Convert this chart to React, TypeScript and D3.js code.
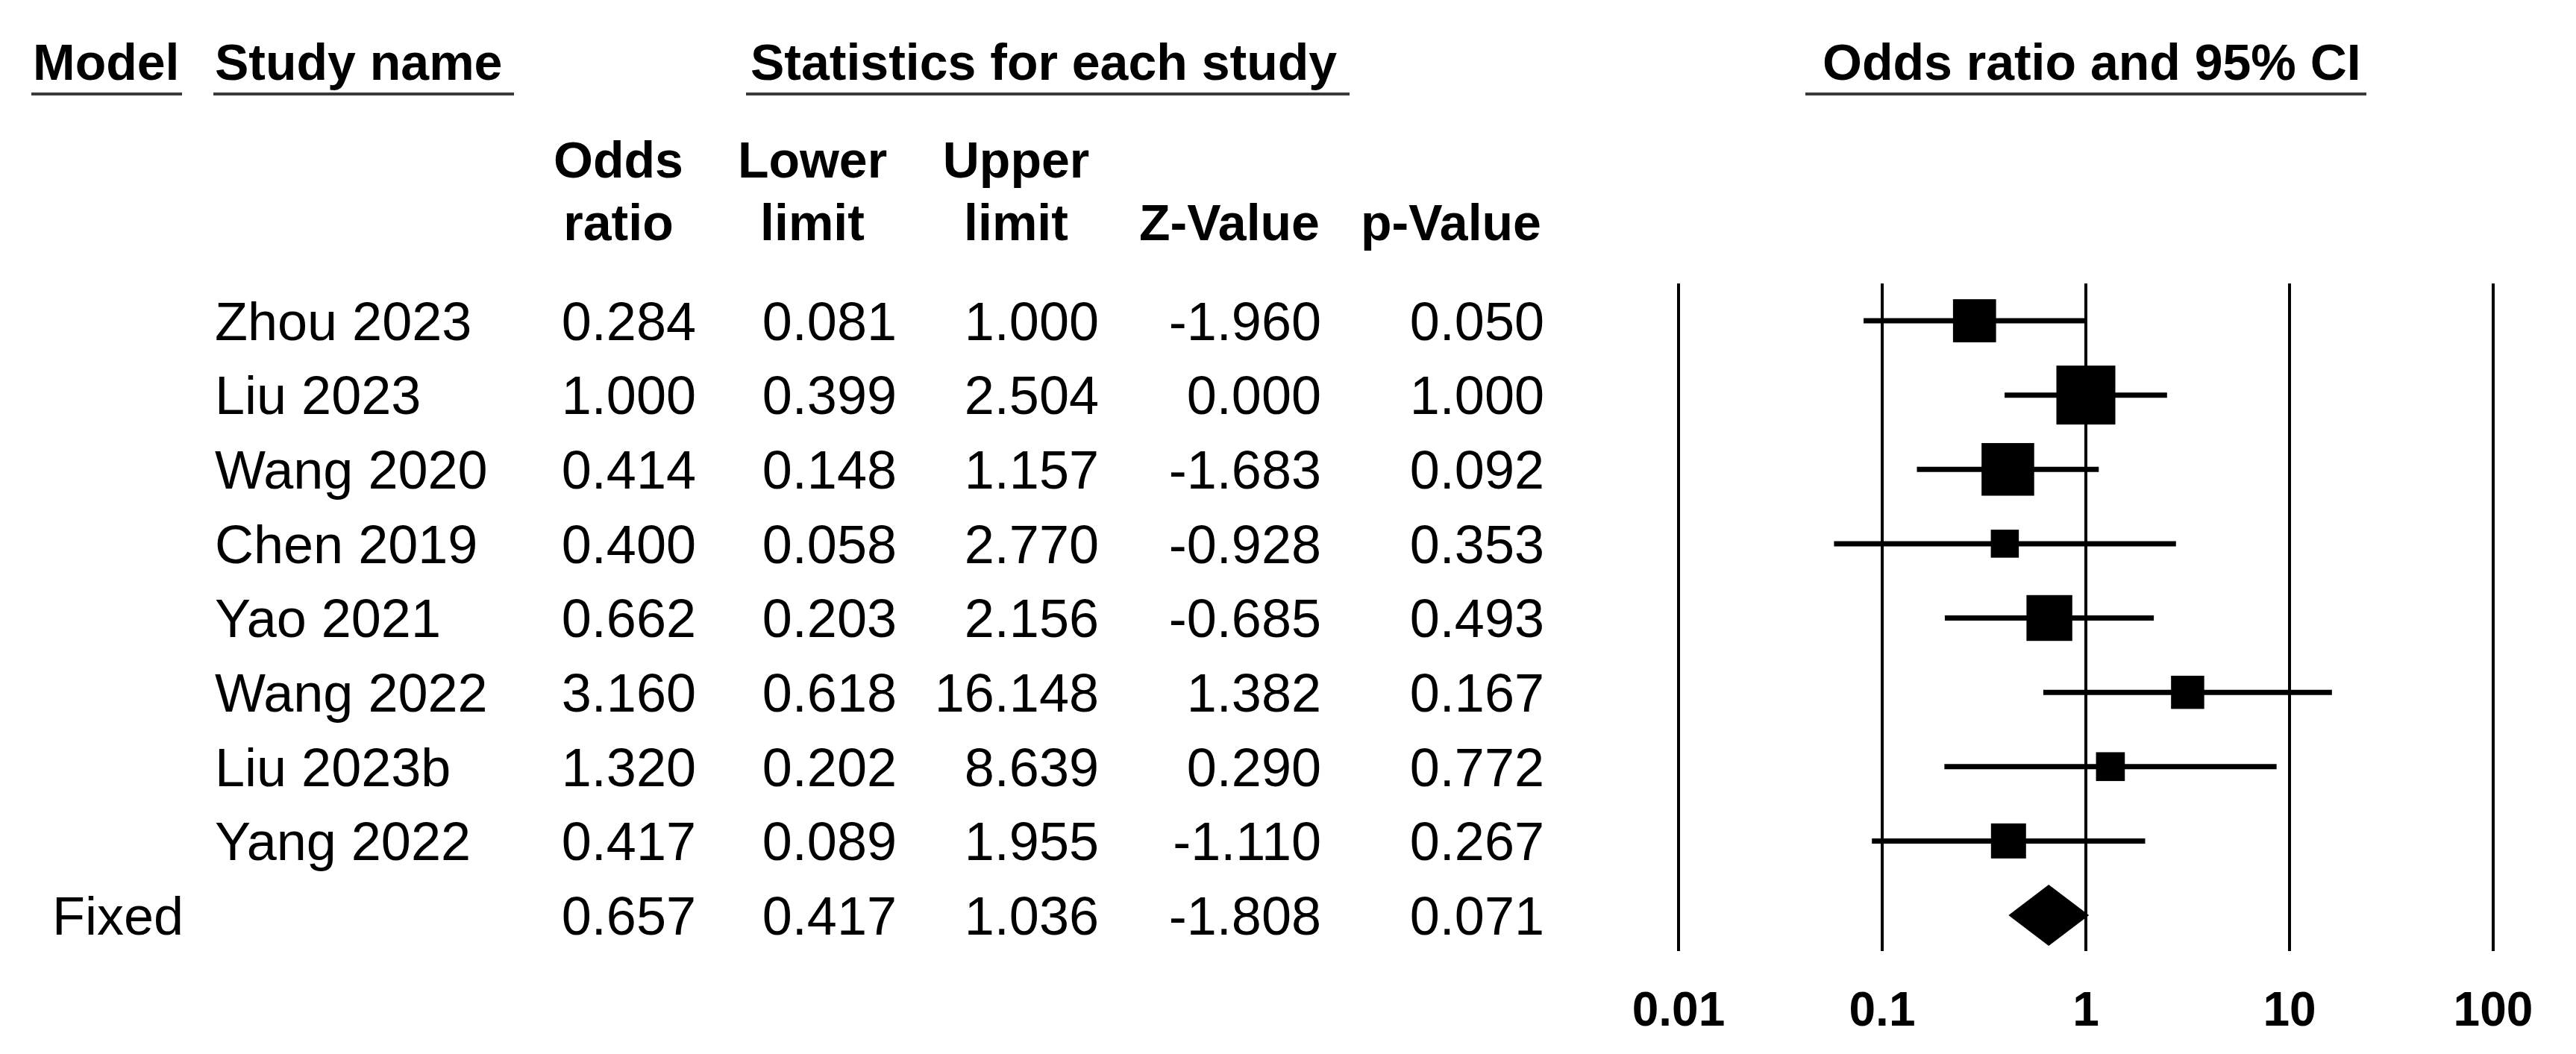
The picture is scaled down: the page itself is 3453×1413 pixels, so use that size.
import * as d3 from 'd3'

// Study level statistics (odds ratios with 95% CI)
const studies = ['Zhou 2023', 'Liu 2023', 'Wang 2020', 'Chen 2019', 'Yao 2021', 'Wang 2022', 'Liu 2023b', 'Yang 2022']
const oddsRatio = [0.284, 1.0, 0.414, 0.4, 0.662, 3.16, 1.32, 0.417]
const lowerLimit = [0.081, 0.399, 0.148, 0.058, 0.203, 0.618, 0.202, 0.089]
const upperLimit = [1.0, 2.504, 1.157, 2.77, 2.156, 16.148, 8.639, 1.955]
const zValue = [-1.96, 0.0, -1.683, -0.928, -0.685, 1.382, 0.29, -1.11]
const pValue = [0.05, 1.0, 0.092, 0.353, 0.493, 0.167, 0.772, 0.267]

// Pooled (fixed effect) result
const fixedLabel = 'Fixed'
const fixedStats = [0.657, 0.417, 1.036, -1.808, 0.071] // OR, lower, upper, Z, p

const axisTicks = [0.01, 0.1, 1, 10, 100]

const W = 3453
const H = 1413
const FONT = '"Liberation Sans", Arial, Helvetica, sans-serif'

export default function App() {
  // plain hyphen for negatives, like the original table
  const fmt = (v: number) => d3.format('.3f')(v).replace('\u2212', '-')

  // Log scale for odds ratio panel
  const x = d3.scaleLog().domain([0.01, 100]).range([2250, 3342])

  // Row positions: studies then summary
  const rowKeys = [...studies, fixedLabel]
  const y = d3.scalePoint<string>().domain(rowKeys).range([430, 1227])

  // Square size ∝ sqrt(inverse-variance weight)
  const weights = lowerLimit.map((lo, i) => {
    const se = (Math.log(upperLimit[i]) - Math.log(lo)) / (2 * 1.96)
    return 1 / (se * se)
  })
  const side = d3.scaleSqrt().domain([0, d3.max(weights) as number]).range([0, 79])

  // Column right edges for numeric values
  const valueCols = [933, 1202, 1473, 1771, 2070]
  const headerCenters = [829, 1089, 1362, 1648, 1945]
  const headerLine1 = ['Odds', 'Lower', 'Upper', '', '']
  const headerLine2 = ['ratio', 'limit', 'limit', 'Z-Value', 'p-Value']

  const regSize = 72
  const boldSize = 68
  const half = regSize * 0.358

  const topHeaders = [
    { text: 'Model', x: 44, x0: 42, x1: 244 },
    { text: 'Study name', x: 288, x0: 286, x1: 689 },
    { text: 'Statistics for each study', x: 1006, x0: 1000, x1: 1809 },
    { text: 'Odds ratio and 95% CI', x: 2443, x0: 2420, x1: 3172 },
  ]

  const fy = y(fixedLabel) as number
  const diamond = [
    [x(fixedStats[1]), fy],
    [x(fixedStats[0]), fy - 41],
    [x(fixedStats[2]), fy],
    [x(fixedStats[0]), fy + 41],
  ]

  return (
    <svg
      width={W}
      height={H}
      viewBox={`0 0 ${W} ${H}`}
      style={{ position: 'absolute', left: 0, top: 0, background: '#fff' }}
      fontFamily={FONT}
    >
      <rect width={W} height={H} fill="#fff" />

      {/* Top headers with underlines */}
      {topHeaders.map(h => (
        <g key={h.text}>
          <text x={h.x} y={107} fontSize={boldSize} fontWeight="bold">{h.text}</text>
          <line x1={h.x0} x2={h.x1} y1={126} y2={126} stroke="#3a3a3a" strokeWidth={4} />
        </g>
      ))}

      {/* Column sub-headers */}
      {headerCenters.map((cx, i) => (
        <g key={i} fontSize={boldSize} fontWeight="bold" textAnchor="middle">
          {headerLine1[i] && <text x={cx} y={238}>{headerLine1[i]}</text>}
          <text x={cx} y={322}>{headerLine2[i]}</text>
        </g>
      ))}

      {/* Study rows */}
      {studies.map((s, i) => {
        const ry = y(s) as number
        const vals = [oddsRatio[i], lowerLimit[i], upperLimit[i], zValue[i], pValue[i]]
        return (
          <g key={s} fontSize={regSize}>
            <text x={288} y={ry + half}>{s}</text>
            {vals.map((v, j) => (
              <text key={j} x={valueCols[j]} y={ry + half} textAnchor="end">{fmt(v)}</text>
            ))}
          </g>
        )
      })}

      {/* Fixed summary row */}
      <g fontSize={regSize}>
        <text x={70} y={fy + half}>{fixedLabel}</text>
        {fixedStats.map((v, j) => (
          <text key={j} x={valueCols[j]} y={fy + half} textAnchor="end">{fmt(v)}</text>
        ))}
      </g>

      {/* Reference vertical lines */}
      {axisTicks.map(t => (
        <line key={t} x1={x(t)} x2={x(t)} y1={380} y2={1275} stroke="#000" strokeWidth={4} />
      ))}

      {/* CI lines and squares */}
      {studies.map((s, i) => {
        const ry = y(s) as number
        const sz = side(weights[i])
        return (
          <g key={s}>
            <line x1={x(lowerLimit[i])} x2={x(upperLimit[i])} y1={ry} y2={ry} stroke="#000" strokeWidth={7} />
            <rect x={x(oddsRatio[i]) - sz / 2} y={ry - sz / 2} width={sz} height={sz} fill="#000" />
          </g>
        )
      })}

      {/* Summary diamond */}
      <polygon points={diamond.map(p => p.join(',')).join(' ')} fill="#000" />

      {/* Axis labels */}
      {axisTicks.map(t => (
        <text key={t} x={x(t)} y={1375} fontSize={64} fontWeight="bold" textAnchor="middle">{String(t)}</text>
      ))}
    </svg>
  )
}
